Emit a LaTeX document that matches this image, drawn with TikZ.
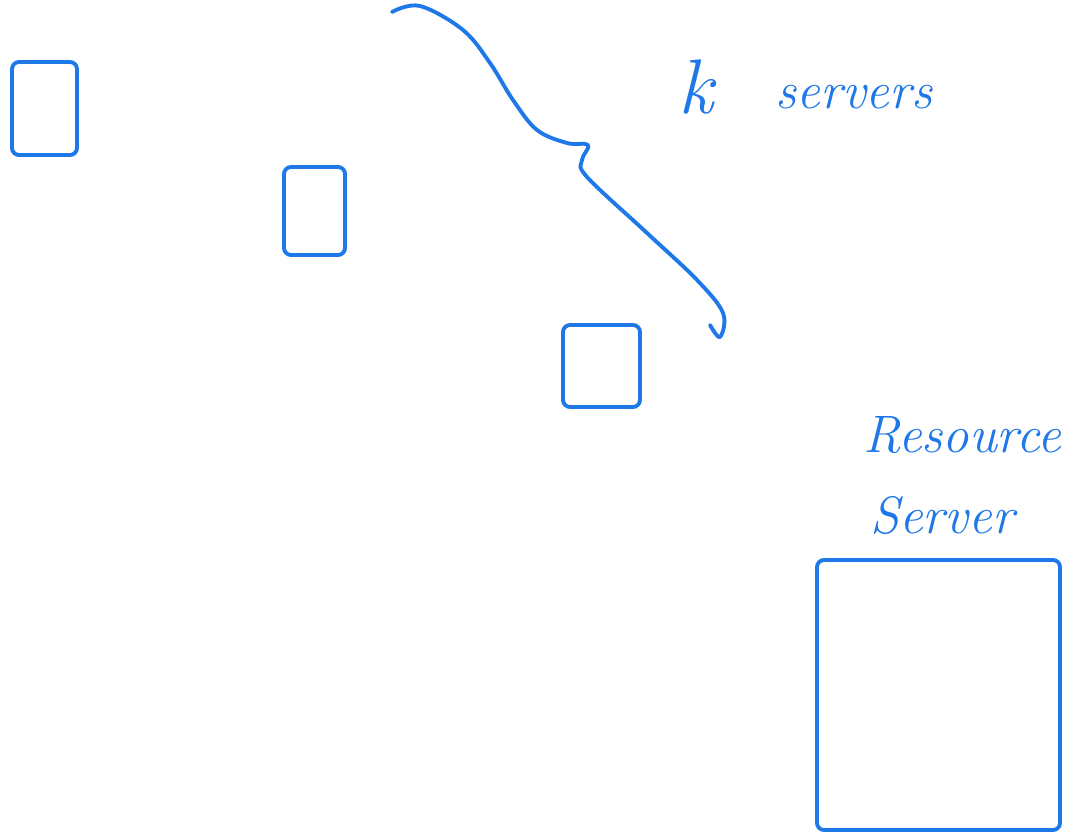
\documentclass[tikz,border=0pt]{standalone}
\usepackage{tikz}
\usetikzlibrary{positioning}
\definecolor{inkblue}{RGB}{30,120,232}
\tikzstyle{server} = [rectangle, draw=inkblue, line width=2.2pt, rounded corners=4pt, inner sep=0pt]
\tikzstyle{ink} = [text=inkblue, inner sep=0pt, font=\fontsize{30}{36}\selectfont\itshape]
\tikzstyle{brace} = [draw=inkblue, line width=2.2pt, line cap=round, line join=round]
\begin{document}
\begin{tikzpicture}
  \useasboundingbox (0,0) rectangle (21.48,-16.72);
  \node (srvA) [server, minimum width=1.3cm, minimum height=1.86cm] at (0.89,-2.17) {};
  \node (srvB) [server, minimum width=1.22cm, minimum height=1.76cm] at (6.29,-4.22) {};
  \node (srvC) [server, minimum width=1.54cm, minimum height=1.64cm] at (12.03,-7.32) {};
  \node (resbox) [server, minimum width=4.86cm, minimum height=5.4cm] at (18.77,-13.9) {};

  \node (klbl) [ink, font=\fontsize{44}{50}\selectfont\itshape] at (13.92,-1.75) {k};
  \node (srvlist) [ink] at (17.08,-1.95) {servers};
  \node (reslbl) [ink] at (19.24,-8.7) {Resource};
  \node (srvlbl) [ink] at (18.84,-10.3) {Server};

  % brace over the k servers
  \draw[brace] plot[smooth, tension=0.6] coordinates {(7.84,-0.24) (8.4,-0.12) (9.26,-0.6) (9.8,-1.26) (10.26,-2.0) (10.74,-2.6) (11.34,-2.86) (11.76,-2.9) (11.64,-3.2) (11.74,-3.54) (12.94,-4.66) (13.94,-5.6) (14.46,-6.26) (14.4,-6.74) (14.2,-6.5)};
\end{tikzpicture}
\end{document}
